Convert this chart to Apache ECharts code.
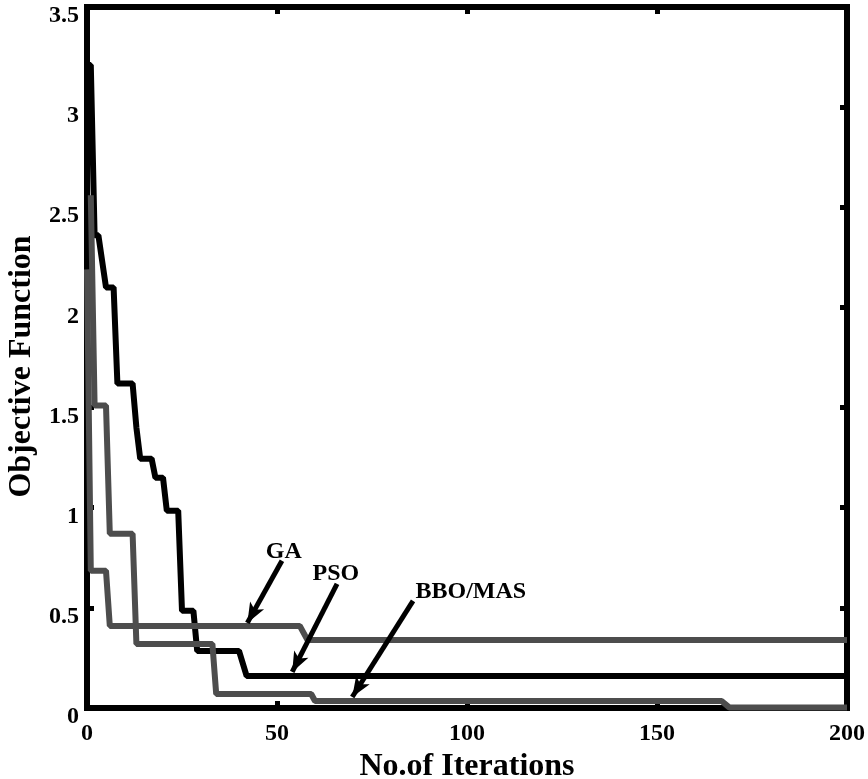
<!DOCTYPE html>
<html><head><meta charset="utf-8">
<script src="https://cdn.jsdelivr.net/npm/echarts@6/dist/echarts.min.js"></script>
<style>html,body{margin:0;padding:0;background:#fff}#c{width:868px;height:779px}</style>
</head><body><div id="c"></div>
<script>
// ---- data ----
const xTickValues = [0, 50, 100, 150, 200];
const yTickValues = [0, 0.5, 1, 1.5, 2, 2.5, 3, 3.5];

const psoIter = [0, 1, 2, 3, 5, 7, 8, 12, 13, 14, 17, 18, 20, 21, 24, 25, 28, 29, 40, 42, 200];
const psoVal  = [3.21, 3.21, 2.36, 2.36, 2.10, 2.10, 1.62, 1.62, 1.40, 1.245, 1.245, 1.15, 1.15, 0.985, 0.985, 0.485, 0.485, 0.285, 0.285, 0.16, 0.16];

const gaIter = [0, 1, 5, 6, 56, 58, 200];
const gaVal  = [2.19, 0.685, 0.685, 0.41, 0.41, 0.34, 0.34];

const bboIter = [1, 2, 5, 6, 12, 13, 33, 34, 59, 60, 167, 169, 200];
const bboVal  = [2.56, 1.51, 1.51, 0.87, 0.87, 0.32, 0.32, 0.07, 0.07, 0.035, 0.035, 0.003, 0.003];

const annoText = ['GA', 'PSO', 'BBO/MAS'];
const annoTextAt = [[51.8, 0.78], [65.5, 0.67], [101, 0.58]];
const annoFrom = [[51.3, 0.735], [65.8, 0.62], [85.8, 0.535]];
const annoTo = [[42.2, 0.425], [54.0, 0.18], [69.8, 0.055]];

// ---- chart ----
const FONT = "'Liberation Serif', 'Times New Roman', serif";
const pair = (xs, ys) => xs.map((x, i) => [x, ys[i]]);
const axisLineStyle = { color: '#000', width: 6, cap: 'square' };
const tick = { show: true, inside: true, length: 7, lineStyle: { color: '#000', width: 5 } };

const chart = echarts.init(document.getElementById('c'), null, { renderer: 'canvas' });
chart.setOption({
  animation: false,
  backgroundColor: '#fff',
  grid: { left: 87, right: 21, top: 7, bottom: 71, containLabel: false, outerBoundsMode: 'none' },
  xAxis: [{
    type: 'value', min: xTickValues[0], max: xTickValues[xTickValues.length - 1], interval: 50,
    position: 'bottom',
    axisLine: { show: true, onZero: false, lineStyle: axisLineStyle },
    axisTick: tick,
    splitLine: { show: false },
    axisLabel: { color: '#000', fontFamily: FONT, fontWeight: 'bold', fontSize: 24, margin: 14 },
    name: 'No.of Iterations', nameLocation: 'middle', nameGap: 40,
    nameTextStyle: { color: '#000', fontFamily: FONT, fontWeight: 'bold', fontSize: 32 }
  }, {
    type: 'value', min: 0, max: 200, interval: 50, position: 'top',
    axisLine: { show: true, onZero: false, lineStyle: axisLineStyle },
    axisTick: tick, axisLabel: { show: false }, splitLine: { show: false }
  }],
  yAxis: [{
    type: 'value', min: yTickValues[0], max: yTickValues[yTickValues.length - 1], interval: 0.5,
    position: 'left',
    axisLine: { show: true, onZero: false, lineStyle: axisLineStyle },
    axisTick: tick,
    splitLine: { show: false },
    axisLabel: { color: '#000', fontFamily: FONT, fontWeight: 'bold', fontSize: 24, margin: 8,
                 verticalAlign: 'top', lineHeight: 18 },
    name: 'Objective Function', nameLocation: 'middle', nameGap: 42, nameRotate: 90,
    nameTextStyle: { color: '#000', fontFamily: FONT, fontWeight: 'bold', fontSize: 32, padding: [0, 18, 0, 0] }
  }, {
    type: 'value', min: 0, max: 3.5, interval: 0.5, position: 'right',
    axisLine: { show: true, onZero: false, lineStyle: axisLineStyle },
    axisTick: tick, axisLabel: { show: false }, splitLine: { show: false }
  }],
  series: [{
    name: 'PSO', type: 'line', data: pair(psoIter, psoVal), showSymbol: false, symbol: 'none',
    lineStyle: { color: '#000', width: 6 }, z: 2
  }, {
    name: 'GA', type: 'line', data: pair(gaIter, gaVal), showSymbol: false, symbol: 'none',
    lineStyle: { color: '#4d4d4d', width: 6 }, z: 3
  }, {
    name: 'BBO/MAS', type: 'line', data: pair(bboIter, bboVal), showSymbol: false, symbol: 'none',
    lineStyle: { color: '#4d4d4d', width: 6 }, z: 3
  }, {
    name: 'annotations', type: 'line', data: [], z: 5,
    markLine: {
      silent: true, animation: false,
      symbol: ['none', 'arrow'], symbolSize: [12, 20],
      lineStyle: { color: '#000', width: 5, type: 'solid' },
      label: { show: false },
      data: annoFrom.map((f, i) => [{ coord: f }, { coord: annoTo[i] }])
    },
    markPoint: {
      silent: true, animation: false,
      symbol: 'circle', symbolSize: 1, itemStyle: { color: 'rgba(0,0,0,0)' },
      label: { show: true, position: 'inside', color: '#000', fontFamily: FONT, fontWeight: 'bold', fontSize: 24, formatter: p => p.name },
      data: annoText.map((t, i) => ({ name: t, coord: annoTextAt[i] }))
    }
  }]
});
</script>
</body></html>
